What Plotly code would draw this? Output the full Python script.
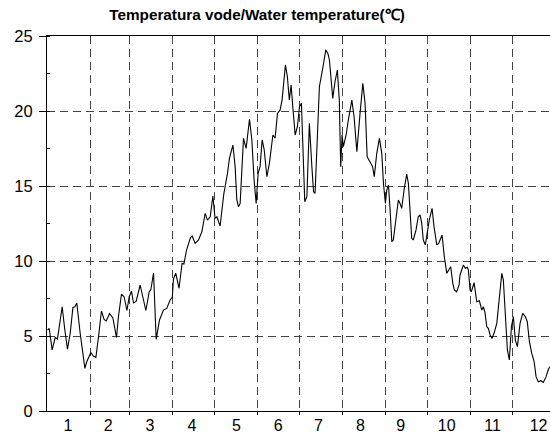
import plotly.graph_objects as go

# Daily water temperature over the year (day of year, degrees C)
day = [
    0.4, 1.6, 3.7, 5.9, 7.5, 10.9, 12.8, 14.7, 16.7, 18.6, 20.0, 21.4, 23.8, 25.5,
    27.2, 28.6, 30.3, 31.5, 33.2, 35.1, 37.0, 39.1, 41.0, 42.5, 44.9, 47.3, 49.9,
    51.3, 53.5, 55.4, 57.4, 59.0, 60.7, 62.1, 64.0, 66.9, 69.3, 71.0, 73.4, 74.6,
    76.5, 78.4, 80.8, 83.6, 86.0, 88.4, 90.0, 90.8, 92.5, 94.8, 97.0, 98.3, 100.2,
    103.0, 104.2, 106.4, 108.8, 111.2, 113.6, 115.2, 117.2, 119.1, 120.7, 122.0,
    124.3, 127.0, 129.6, 131.0, 133.5, 135.1, 136.3, 137.5, 138.7, 141.1, 143.0,
    145.4, 147.1, 148.7, 150.2, 151.6, 153.0, 154.5, 156.0, 157.9, 159.7, 162.2,
    163.8, 165.5, 167.4, 168.8, 171.2, 172.6, 174.0, 175.3, 176.5, 178.2, 179.8,
    181.3, 182.7, 183.7, 185.1, 186.6, 188.4, 190.2, 191.4, 192.5, 194.2, 195.6,
    198.0, 200.2, 201.7, 202.8, 205.2, 206.8, 208.5, 209.9, 210.9, 211.9, 212.8,
    214.8, 216.4, 218.9, 220.5, 222.5, 224.8, 226.8, 228.4, 229.9, 231.9, 233.8,
    235.0, 236.8, 238.7, 240.4, 241.6, 243.0, 244.0, 245.2, 246.4, 247.6, 248.7,
    250.7, 252.3, 253.5, 254.7, 256.4, 258.3, 259.5, 260.7, 261.9, 263.0, 265.0,
    266.6, 267.9, 269.1, 270.2, 271.7, 273.1, 274.5, 276.5, 277.9, 279.9, 281.3,
    283.7, 285.3, 287.1, 288.5, 289.9, 291.4, 292.5, 294.2, 295.9, 296.6, 299.0,
    300.4, 301.9, 302.6, 303.8, 304.7, 306.7, 308.6, 310.5, 312.2, 313.4, 314.6,
    315.8, 316.9, 318.2, 319.6, 321.0, 323.0, 324.8, 326.6, 327.7, 329.1, 330.6,
    332.0, 333.5, 334.9, 336.3, 337.8, 339.7, 341.6, 343.5, 344.9, 346.4, 348.1,
    349.8, 351.2, 352.8, 354.6, 356.4, 358.4, 360.0, 361.2,
]
water_temp = [
    5.4, 5.5, 4.07, 4.9, 4.8, 6.95, 5.4, 4.13, 5.2, 6.9, 6.95, 7.2, 5.2, 4.07,
    2.84, 3.3, 3.73, 3.9, 3.67, 3.58, 4.95, 6.67, 6.1, 6.0, 6.5, 6.2, 4.9,
    6.3, 7.8, 7.6, 6.7, 7.6, 8.0, 7.2, 7.3, 8.4, 7.4, 6.7, 7.95, 8.1,
    9.2, 4.78, 6.07, 6.73, 6.84, 7.4, 7.58, 8.8, 9.18, 8.18, 9.84, 9.8, 10.73,
    11.55, 11.67, 11.18, 11.4, 11.95, 13.18, 12.73, 12.95, 14.33, 12.84, 12.95,
    12.33, 14.5, 15.84, 16.84, 17.73, 16.29, 14.07, 13.62, 13.84, 18.18, 17.51,
    19.45, 18.07, 15.4, 13.84, 15.84, 16.29, 18.07, 17.4, 15.62, 16.51, 18.4,
    18.18, 19.84, 20.07, 20.73, 23.07, 22.29, 20.73, 21.73, 20.29, 18.4, 18.95,
    20.29, 20.51, 17.62, 13.95, 14.29, 19.18, 16.29, 14.62, 14.51, 18.51, 21.62,
    22.84, 24.07, 23.84, 23.4, 20.84, 21.95, 22.73, 20.73, 16.29, 18.4, 17.62,
    18.4, 19.4, 20.73, 19.62, 17.29, 19.84, 21.84, 20.51, 16.95, 16.62, 16.29,
    15.62, 17.18, 18.18, 17.18, 15.18, 13.84, 14.73, 15.07, 13.4, 11.29, 11.4,
    12.95, 14.07, 13.84, 13.51, 14.73, 15.8, 15.18, 13.18, 11.51, 11.4, 12.07,
    12.95, 13.07, 12.51, 11.4, 11.07, 11.84, 12.73, 13.51, 12.29, 11.07, 11.18,
    11.73, 10.29, 9.18, 9.4, 9.62, 8.51, 8.07, 7.95, 8.4, 9.07, 9.73,
    9.51, 9.58, 9.4, 8.07, 7.95, 8.56, 7.29, 7.35, 6.73, 6.95, 6.51,
    5.62, 5.51, 5.07, 4.84, 5.18, 5.84, 7.62, 9.18, 8.73, 6.29, 4.07,
    3.4, 5.62, 6.29, 4.73, 4.29, 5.84, 6.51, 6.29, 5.95, 4.62, 3.84,
    3.29, 2.29, 1.95, 2.02, 1.9, 2.29, 2.78, 2.95,
]

# Month boundaries (end day of each month) and month label positions
month_ends = [31, 59, 90, 120, 151, 181, 212, 243, 273, 304, 334]
month_label_days = [15, 44, 74, 104, 136, 166, 195, 225, 254, 287, 320, 353]
month_labels = ["1", "2", "3", "4", "5", "6", "7", "8", "9", "10", "11", "12"]
y_ticks = [0, 5, 10, 15, 20, 25]

title_text = "Temperatura vode/Water temperature(℃)"

font_family = "Liberation Sans, Arial, Helvetica, sans-serif"
grid_color = "#444444"

fig = go.Figure()
fig.add_trace(go.Scatter(
    x=day,
    y=water_temp,
    mode="lines",
    line=dict(color="black", width=1.1),
    hoverinfo="skip",
    showlegend=False,
))

fig.update_layout(
    width=550,
    height=436,
    margin=dict(l=47, r=0, t=36, b=25, autoexpand=False),
    paper_bgcolor="white",
    plot_bgcolor="white",
    font=dict(family=font_family, size=16.5, color="black"),
    title=dict(
        text="<b>" + title_text + "</b>",
        font=dict(family=font_family, size=15.3, color="black"),
        x=257 / 550,
        xanchor="center",
        xref="container",
        y=1 - 15 / 436,
        yanchor="middle",
        yref="container",
    ),
)

fig.update_xaxes(
    range=[0, 361.2],
    automargin=False,
    tickmode="array",
    tickvals=month_label_days,
    ticktext=month_labels,
    tickfont=dict(size=16),
    ticks="",
    ticklabelstandoff=0,
    showgrid=False,
    zeroline=False,
    showline=True,
    linecolor="black",
    linewidth=1,
    mirror=True,
    minor=dict(
        tickmode="array",
        tickvals=month_ends,
        ticks="outside",
        ticklen=3,
        tickcolor="black",
        showgrid=True,
        gridcolor=grid_color,
        gridwidth=1,
        griddash="8px,5px",
    ),
)

fig.update_yaxes(
    range=[0, 25],
    automargin=False,
    tickmode="array",
    tickvals=y_ticks,
    ticks="outside",
    ticklen=7,
    tickcolor="black",
    ticklabelstandoff=3,
    showgrid=True,
    gridcolor=grid_color,
    gridwidth=1,
    griddash="8px,5px",
    zeroline=False,
    showline=True,
    linecolor="black",
    linewidth=1,
    minor=dict(
        dtick=2.5,
        tick0=0,
        ticks="inside",
        ticklen=3,
        tickcolor="black",
        showgrid=False,
    ),
)

fig.write_html("out.html")
